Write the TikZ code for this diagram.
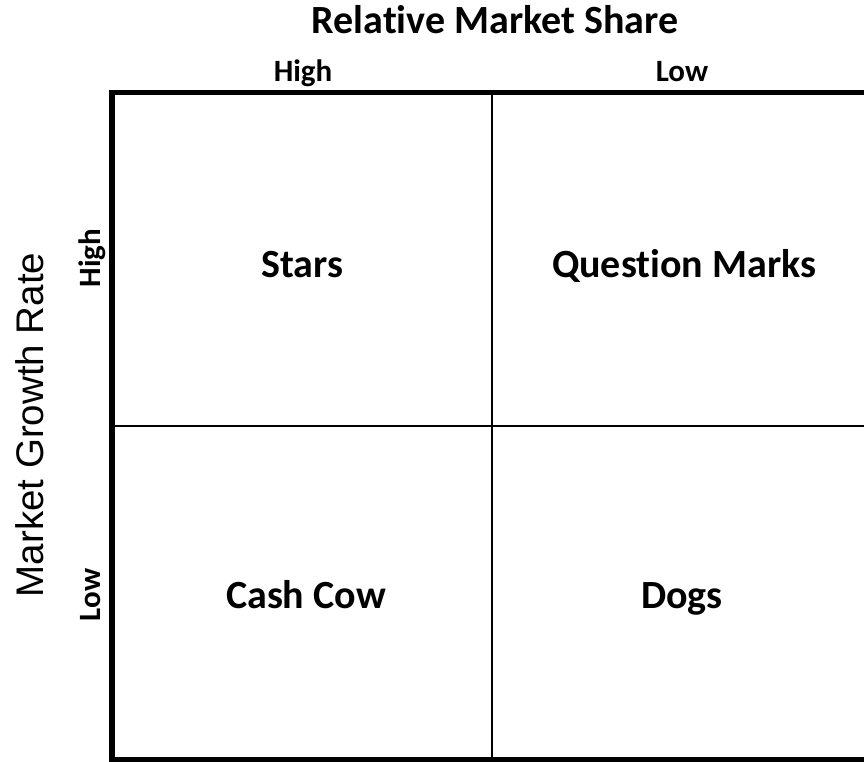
\documentclass[tikz,border=0pt]{standalone}
\usepackage{fontspec}
\setmainfont{Carlito}[Ligatures=NoCommon]
\newfontfamily\arialfont{Liberation Sans}
\begin{document}
\begin{tikzpicture}[x=1pt,y=-1pt,
  heading/.style={font=\bfseries\fontsize{40}{42}\selectfont, anchor=base, inner sep=0pt},
  level/.style={font=\bfseries\fontsize{31}{33}\selectfont, anchor=base, inner sep=0pt},
  quadlabel/.style={font=\bfseries\fontsize{40}{42}\selectfont, anchor=base, inner sep=0pt},
  axislabel/.style={font=\arialfont\fontsize{38.5}{40}\selectfont, anchor=base, inner sep=0pt, rotate=90},
  frame/.style={line width=5.5pt},
  divider/.style={line width=1.8pt}]
\useasboundingbox (0,0) rectangle (864,761);
\clip (0,0) rectangle (864,761);
% outer frame of the matrix and its two dividers
\draw[frame] (112,92.5) rectangle (872,759.5);
\draw[divider] (492,92.5) -- (492,759.5);
\draw[divider] (112,426) -- (872,426);
% axis headings
\node[heading] (share) at (495,33) {Relative Market Share};
\node[level] (shareHigh) at (303,81) {High};
\node[level] (shareLow) at (682,81) {Low};
\node[axislabel] (growth) at (43,425) {Market Growth Rate};
\node[level, rotate=90] (growthHigh) at (100,258) {High};
\node[level, rotate=90] (growthLow) at (100,595) {Low};
% quadrants
\node[quadlabel] (stars) at (302,277) {Stars};
\node[quadlabel] (question) at (684,277) {Question Marks};
\node[quadlabel] (cashcow) at (306,608) {Cash Cow};
\node[quadlabel] (dogs) at (682,608) {Dogs};
\end{tikzpicture}
\end{document}
